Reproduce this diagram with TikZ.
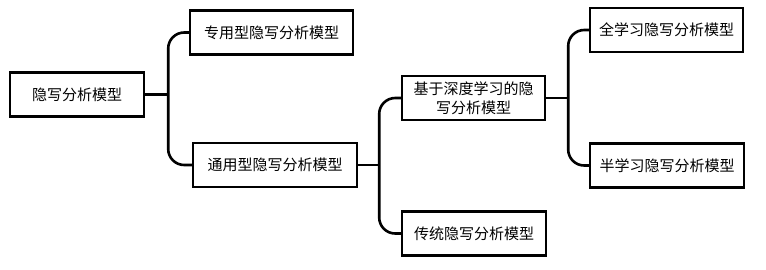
\documentclass[tikz,border=0pt]{standalone}
\usepackage{fontspec}
\newfontfamily\cjk{Noto Sans CJK SC}
\usepackage{tikz}
\usetikzlibrary{positioning}

\tikzset{
  box/.style={draw, rectangle, line width=2.4pt, minimum height=44pt, inner sep=0pt,
    font=\cjk\fontsize{15}{19}\selectfont, align=center},
  link/.style={line width=2.6pt, rounded corners=16pt}
}

\begin{document}
\begin{tikzpicture}[x=1pt, y=1pt]
  \useasboundingbox (0,0) rectangle (766,-269);

  \node[box, minimum width=134pt] (root) at (77,-94.5) {隐写分析模型};

  \node[box, minimum width=163pt, right=43.6pt of root, yshift=62pt] (special) {专用型隐写分析模型};
  \node[box, minimum width=164pt, right=46.6pt of root, yshift=-70.5pt] (general) {通用型隐写分析模型};

  \node[box, minimum width=143pt, right=42.6pt of general, yshift=67pt] (deep) {基于深度学习的隐\\写分析模型};
  \node[box, minimum width=144pt, right=42.6pt of general, yshift=-68.5pt] (trad) {传统隐写分析模型};

  \node[box, minimum width=153pt, right=42.6pt of deep, yshift=68pt] (full) {全学习隐写分析模型};
  \node[box, minimum width=154pt, right=42.6pt of deep, yshift=-67.5pt] (semi) {半学习隐写分析模型};

  \draw[link] (root.east) -- ++(23,0) coordinate (b1);
  \draw[link] (special.west) -| (b1) |- (general.west);

  \draw[link] (general.east) -- ++(21,0) coordinate (b2);
  \draw[link] (deep.west) -| (b2) |- (trad.west);

  \draw[link] (deep.east) -- ++(22,0) coordinate (b3);
  \draw[link] (full.west) -| (b3) |- (semi.west);
\end{tikzpicture}
\end{document}
